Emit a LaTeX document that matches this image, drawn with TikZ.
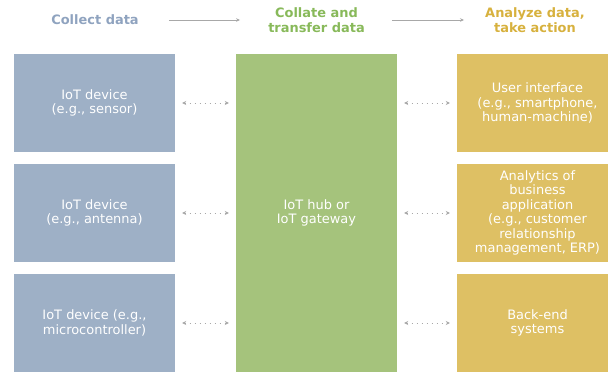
\documentclass[tikz,border=0pt]{standalone}
\usepackage{fontspec}
\setmainfont{DejaVu Sans}
\usepackage{xcolor}
\usetikzlibrary{positioning,arrows.meta}

\definecolor{collectblue}{HTML}{9EB0C6}
\definecolor{collecttext}{HTML}{8FA3BF}
\definecolor{collategreen}{HTML}{A5C37C}
\definecolor{collatetext}{HTML}{88B95A}
\definecolor{analyzegold}{HTML}{DEC064}
\definecolor{analyzetext}{HTML}{D7B13E}
\definecolor{arrowgray}{HTML}{A8A8A8}

\begin{document}
\begin{tikzpicture}[x=1bp, y=-1bp,
  every box/.style={text=white, align=center, inner sep=0pt,
    minimum width=161bp, font=\fontsize{13}{14.5}\selectfont},
  device box/.style={every box, fill=collectblue, minimum height=98bp},
  hub box/.style={every box, fill=collategreen, minimum height=318bp},
  action box/.style={every box, fill=analyzegold, minimum height=98bp},
  head/.style={align=center, inner sep=0pt, font=\fontsize{13}{15}\selectfont\bfseries},
  flow/.style={-{Stealth[length=4bp,width=3.5bp]}, arrowgray, line width=0.8bp},
  link/.style={{Stealth[length=4bp,width=4bp]}-{Stealth[length=4bp,width=4bp]},
    arrowgray, line width=0.9bp, dash pattern=on 1.2bp off 3.8bp,
    shorten <=7bp, shorten >=7bp}]

\useasboundingbox (0,0) rectangle (608,371);

\foreach \t [count=\y] in {{IoT device\\(e.g., sensor)},
    {IoT device\\(e.g., antenna)}, {IoT device (e.g.,\\microcontroller)}}
  \node [device box] (device-\y) at (94.5,-7+\y*110) {\t};

\node [hub box] (hub) at (316.5,213) {IoT hub or\\IoT gateway};

\foreach \t [count=\y] in {{User interface\\(e.g., smartphone,\\human-machine)},
    {Analytics of\\business\\application\\(e.g., customer\\relationship\\management, ERP)},
    {Back-end\\systems}}
  \node [action box] (action-\y) at (537.5,-7+\y*110) {\t};

\foreach \i in {1,...,3} {
  \draw [link] (device-\i.east) -- (device-\i.east -| hub.west);
  \draw [link] (hub.east |- action-\i.west) -- (action-\i.west);
}

\node [head, text=collecttext] (collect) at (95,20) {Collect data};
\node [head, text=collatetext] (collate) at (316.5,20) {Collate and\\transfer data};
\node [head, text=analyzetext] (analyze) at (535,20) {Analyze data,\\take action};

\draw [flow, shorten <=30bp, shorten >=28bp] (collect) -- (collate);
\draw [flow, shorten <=27bp, shorten >=21bp] (collate) -- (analyze);

\end{tikzpicture}
\end{document}
